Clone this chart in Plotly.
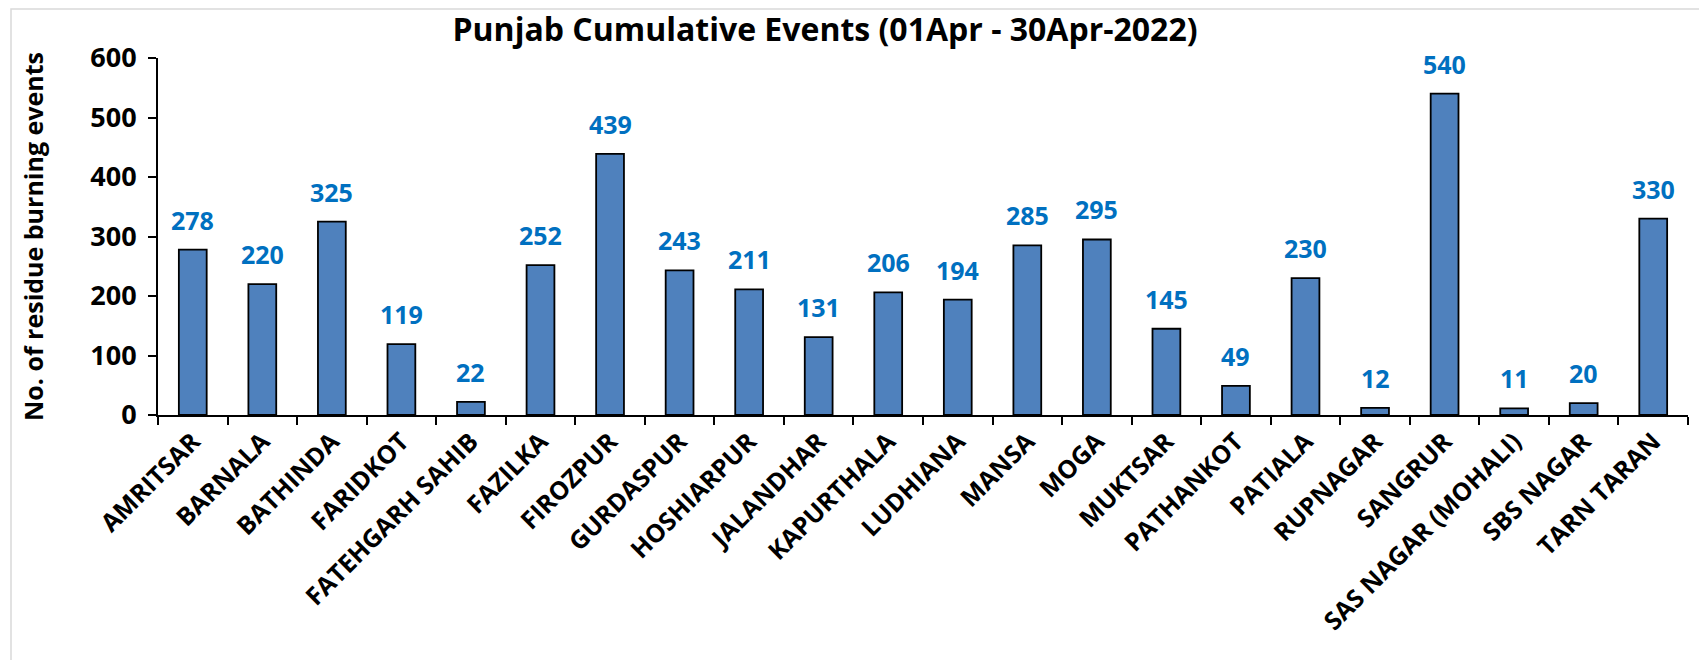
import plotly.graph_objects as go

districts = [
    "AMRITSAR", "BARNALA", "BATHINDA", "FARIDKOT", "FATEHGARH SAHIB", "FAZILKA",
    "FIROZPUR", "GURDASPUR", "HOSHIARPUR", "JALANDHAR", "KAPURTHALA", "LUDHIANA",
    "MANSA", "MOGA", "MUKTSAR", "PATHANKOT", "PATIALA", "RUPNAGAR", "SANGRUR",
    "SAS NAGAR (MOHALI)", "SBS NAGAR", "TARN TARAN",
]
events = [278, 220, 325, 119, 22, 252, 439, 243, 211, 131, 206, 194,
          285, 295, 145, 49, 230, 12, 540, 11, 20, 330]
y_ticks = [0, 100, 200, 300, 400, 500, 600]

FONT = "Open Sans"
BAR_FILL = "#4F81BD"
LABEL_BLUE = "#0070C0"

W, H = 1707, 660
# the page body adds an 8px offset, so the plot box is shifted to compensate
L, R, T, B = 150, 27, 50, 253

fig = go.Figure()
fig.add_trace(
    go.Bar(
        x=districts, y=events,
        marker=dict(color=BAR_FILL, line=dict(color="black", width=1.8)),
        showlegend=False,
    )
)

# value labels float a fixed distance above each bar
for name, val in zip(districts, events):
    fig.add_annotation(
        x=name, y=val, text=f"<b>{val}</b>", showarrow=False,
        yshift=30, font=dict(family=FONT, size=25, color=LABEL_BLUE),
    )

fig.update_layout(
    width=W, height=H,
    margin=dict(l=L, r=R, t=T, b=B),
    paper_bgcolor="white", plot_bgcolor="white",
    bargap=0.6,
    title=dict(
        text="<b>Punjab Cumulative Events (01Apr - 30Apr-2022)</b>",
        x=817 / W, xanchor="center", y=1 - 22 / H, yanchor="middle",
        font=dict(family=FONT, size=32, color="black"),
    ),
    xaxis=dict(
        type="category", tickangle=-45, tickson="boundaries",
        ticks="outside", ticklen=8, tickwidth=2, tickcolor="black",
        showline=True, linecolor="black", linewidth=2,
        tickfont=dict(family=FONT, size=25, color="black", weight="bold"),
        showgrid=False,
    ),
    yaxis=dict(
        range=[0, 600], tickvals=y_ticks, ticks="outside", ticklen=8,
        tickwidth=2, tickcolor="black", showline=True, linecolor="black",
        linewidth=2, showgrid=False, zeroline=False, ticklabelstandoff=6,
        tickfont=dict(family=FONT, size=27, color="black", weight="bold"),
        title=dict(text="<b>No. of residue burning events</b>", standoff=40,
                   font=dict(family=FONT, size=25, color="black")),
    ),
)

# light chart-area border
pw = W - L - R
ph = H - T - B
fig.add_shape(
    type="rect", xref="paper", yref="paper",
    x0=(3 - L) / pw, x1=(W - 2 - L) / pw,
    y0=-(H - 2 - (H - B)) / ph, y1=1 + (T - 1) / ph,
    line=dict(color="#D9D9D9", width=1.5), layer="below",
)

fig.write_html("out.html")
